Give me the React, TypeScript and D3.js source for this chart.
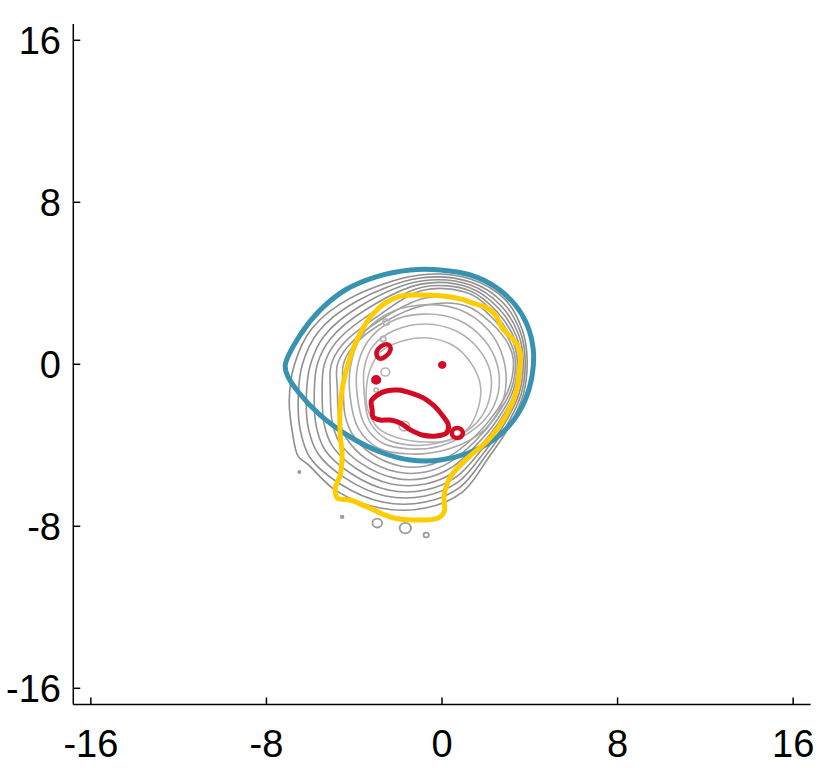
import React from 'react';
import * as d3 from 'd3';

type P = [number, number];

const TICKS = [-16, -8, 0, 8, 16];
const TICK_LABELS = ['-16', '-8', '0', '8', '16'];

const BLUE: P[] = [[-7.14,-0.03],[-6.46,1.45],[-5.55,2.68],[-4.41,3.67],[-3.04,4.31],[-1.44,4.66],[-0.08,4.66],[1.29,4.41],[2.43,3.82],[3.34,2.93],[3.88,1.94],[4.16,0.71],[4.11,-0.53],[3.79,-1.76],[3.20,-2.85],[2.34,-3.74],[1.20,-4.38],[-0.08,-4.73],[-1.44,-4.73],[-2.81,-4.33],[-4.18,-3.59],[-5.55,-2.51],[-6.55,-1.37],[-7.05,-0.53]];

const YELLOW: P[] = [[-4.77,-6.60],[-4.86,-6.11],[-4.64,-5.47],[-4.55,-4.48],[-4.64,-3.49],[-4.64,-2.11],[-4.50,-0.93],[-4.18,0.36],[-3.72,1.55],[-3.18,2.44],[-2.58,3.03],[-1.90,3.37],[-0.99,3.42],[0.06,3.37],[0.83,3.23],[1.52,2.98],[2.06,2.78],[2.43,2.44],[2.75,1.79],[3.34,1.10],[3.57,0.56],[3.52,-0.38],[3.38,-1.37],[2.93,-2.51],[2.11,-3.74],[1.06,-4.73],[0.38,-5.56],[0.10,-6.45],[0.10,-7.29],[-0.17,-7.59],[-1.31,-7.69],[-2.36,-7.54],[-3.40,-7.05],[-4.18,-6.70]];

const GRAY_OUTER_1: P[] = [[-6.73,-0.03],[-5.91,1.79],[-4.18,3.27],[-0.99,4.41],[1.29,4.21],[2.89,3.18],[3.66,1.69],[3.88,0.21],[3.70,-1.52],[3.02,-3.15],[2.11,-4.63],[0.93,-6.31],[-0.76,-7.10],[-2.81,-7.10],[-4.86,-6.21],[-6.10,-4.95],[-6.55,-4.55],[-6.82,-3.34],[-6.96,-1.76]];
const GRAY_OUTER_2: P[] = [[-6.37,-0.03],[-5.64,1.60],[-3.95,3.08],[-0.99,4.26],[1.29,4.06],[2.79,3.03],[3.57,1.60],[3.79,0.21],[3.61,-1.47],[2.93,-3.05],[2.02,-4.48],[0.83,-6.06],[-0.76,-6.80],[-2.72,-6.80],[-4.64,-5.91],[-6.00,-4.63],[-6.46,-3.24],[-6.55,-1.66]];
const GRAY_OUTER_3: P[] = [[-6.00,-0.03],[-5.37,1.40],[-3.72,2.88],[-0.94,4.11],[1.29,3.92],[2.70,2.88],[3.48,1.50],[3.70,0.21],[3.52,-1.42],[2.84,-2.95],[1.93,-4.33],[0.74,-5.81],[-0.76,-6.50],[-2.58,-6.50],[-4.41,-5.62],[-5.64,-4.43],[-6.09,-3.15],[-6.18,-1.56]];
const GRAY_OUTER_4: P[] = [[-5.69,-0.03],[-5.09,1.25],[-3.50,2.68],[-0.90,3.97],[1.29,3.77],[2.61,2.73],[3.38,1.40],[3.61,0.21],[3.43,-1.37],[2.75,-2.85],[1.84,-4.18],[0.65,-5.56],[-0.76,-6.21],[-2.45,-6.21],[-4.18,-5.37],[-5.33,-4.23],[-5.73,-3.05],[-5.82,-1.47]];
const GRAY_OUTER_5: P[] = [[-5.37,-0.03],[-4.82,1.10],[-3.27,2.48],[-0.85,3.82],[1.29,3.62],[2.52,2.58],[3.29,1.30],[3.52,0.21],[3.34,-1.32],[2.66,-2.75],[1.75,-4.03],[0.56,-5.32],[-0.76,-5.91],[-2.31,-5.91],[-3.95,-5.12],[-5.00,-4.03],[-5.37,-2.95],[-5.46,-1.37]];
const GRAY_OUTER_6: P[] = [[-5.05,-0.03],[-4.55,0.95],[-3.04,2.29],[-0.81,3.67],[1.29,3.47],[2.43,2.44],[3.20,1.20],[3.43,0.21],[3.25,-1.27],[2.57,-2.65],[1.65,-3.89],[0.47,-5.07],[-0.76,-5.62],[-2.17,-5.62],[-3.72,-4.87],[-4.68,-3.84],[-5.00,-2.85],[-5.09,-1.27]];
const GRAY_OUTER_7: P[] = [[-4.77,-0.03],[-4.27,0.90],[-2.81,2.19],[-0.76,3.27],[1.20,3.18],[2.34,2.24],[3.11,1.10],[3.34,0.21],[3.16,-1.22],[2.47,-2.55],[1.56,-3.74],[0.38,-4.82],[-0.76,-5.32],[-2.04,-5.32],[-3.50,-4.63],[-4.36,-3.64],[-4.68,-2.75],[-4.77,-1.17]];
const GRAY_OUTER_8: P[] = [[-4.50,-0.03],[-4.04,0.90],[-2.63,2.09],[-0.72,2.93],[1.11,2.88],[2.24,2.04],[3.02,1.00],[3.25,0.21],[3.06,-1.17],[2.38,-2.46],[1.47,-3.59],[0.29,-4.58],[-0.76,-5.02],[-1.90,-5.02],[-3.27,-4.38],[-4.09,-3.44],[-4.41,-2.55],[-4.50,-1.17]];

const GRAY_INNER_1: P[] = [[-4.18,-0.18],[-3.72,1.30],[-2.58,2.44],[-0.99,2.93],[0.83,2.68],[2.11,1.69],[2.79,0.31],[2.89,-1.27],[2.47,-2.51],[1.65,-3.49],[0.15,-4.23],[-1.44,-4.43],[-2.91,-4.13],[-3.82,-3.15],[-4.18,-1.66]];
const GRAY_INNER_2: P[] = [[-3.86,-0.18],[-3.40,1.10],[-2.36,2.09],[-0.90,2.48],[0.74,2.19],[1.93,1.20],[2.52,-0.03],[2.57,-1.37],[2.11,-2.51],[1.29,-3.34],[-0.08,-4.03],[-1.44,-4.18],[-2.72,-3.89],[-3.54,-2.95],[-3.86,-1.56]];
const GRAY_INNER_3: P[] = [[-3.54,-0.18],[-3.14,0.90],[-2.13,1.69],[-0.76,1.99],[0.65,1.64],[1.70,0.71],[2.20,-0.38],[2.20,-1.52],[1.79,-2.60],[1.06,-3.34],[-0.17,-3.89],[-1.44,-3.99],[-2.54,-3.69],[-3.31,-2.80],[-3.54,-1.47]];
const GRAY_INNER_4: P[] = [[-3.31,-0.38],[-2.81,0.61],[-1.81,1.15],[-0.62,1.30],[0.47,0.95],[1.29,0.11],[1.75,-1.03],[1.65,-2.16],[1.20,-3.15],[0.38,-3.74],[-0.76,-3.84],[-1.99,-3.64],[-2.91,-3.15],[-3.40,-2.16],[-3.45,-1.27]];

const GRAY_OUTER = [GRAY_OUTER_1, GRAY_OUTER_2, GRAY_OUTER_3, GRAY_OUTER_4, GRAY_OUTER_5, GRAY_OUTER_6, GRAY_OUTER_7, GRAY_OUTER_8];
const GRAY_INNER = [GRAY_INNER_1, GRAY_INNER_2, GRAY_INNER_3, GRAY_INNER_4];

// small gray rings: [x, y, radius] in data units
const GRAY_RINGS: [number, number, number][] = [[-2.95,-7.84,0.22],[-1.67,-8.09,0.26],[-0.72,-8.43,0.12],[-6.50,-5.32,0.05],[-4.55,-7.54,0.06]];
const LIGHT_RINGS: [number, number, number][] = [[-2.54,2.09,0.15],[-2.68,1.25,0.13],[-2.58,-0.38,0.2],[-1.72,-3.05,0.24],[-3.00,-1.27,0.1]];

const RED_LOOP: P[] = [[-3.18,-2.26],[-3.22,-1.81],[-2.95,-1.52],[-2.54,-1.32],[-1.99,-1.27],[-1.40,-1.42],[-0.85,-1.66],[-0.35,-2.06],[0.01,-2.51],[0.29,-3.00],[0.20,-3.39],[-0.26,-3.54],[-0.90,-3.49],[-1.44,-3.24],[-1.90,-2.90],[-2.36,-2.75],[-2.81,-2.75],[-3.14,-2.60]];
const RED_SMALL_LOOP: P[] = [[-2.92,0.34],[-2.98,0.62],[-2.79,0.88],[-2.52,0.99],[-2.36,0.88],[-2.37,0.64],[-2.57,0.39],[-2.78,0.28]];
const RED_RINGS: [number, number, number][] = [[0.70,-3.39,0.25]];
const RED_DOTS: [number, number, number][] = [[-3.00,-0.77,0.14],[0.01,-0.03,0.1]];

const W = 830;
const H = 768;

export default function App() {
  const x = d3.scaleLinear().domain([-16.8, 16.8]).range([73.3, 810.7]);
  const y = d3.scaleLinear().domain([-16.8, 16.8]).range([704.5, 24.1]);
  const closed = d3.line<P>().x(d => x(d[0])).y(d => y(d[1])).curve(d3.curveCatmullRomClosed.alpha(0.5));
  const rx = (r: number) => x(r) - x(0);
  const ry = (r: number) => y(0) - y(r);
  const darkColors = ['#8e8e8e', '#8e8e8e', '#909090', '#929292', '#949494', '#979797', '#9a9a9a', '#9d9d9d'];
  const lightColors = ['#a8a8a8', '#acacac', '#b0b0b0', '#b4b4b4'];
  const font = '"Liberation Sans", Arial, Helvetica, sans-serif';
  const x0 = x.range()[0];
  const yb = y.range()[0];

  return (
    <svg width={W} height={H} style={{ position: 'absolute', left: 0, top: 0, background: '#fff' }}>
      <g fill="none" strokeLinejoin="round">
        {GRAY_OUTER.map((c, i) => (
          <path key={'go' + i} d={closed(c) || ''} stroke={darkColors[i]} strokeWidth={1.6} />
        ))}
        {GRAY_INNER.map((c, i) => (
          <path key={'gi' + i} d={closed(c) || ''} stroke={lightColors[i]} strokeWidth={1.6} />
        ))}
        {GRAY_RINGS.map((r, i) => (
          <ellipse key={'gr' + i} cx={x(r[0])} cy={y(r[1])} rx={rx(r[2])} ry={ry(r[2])} stroke="#9a9a9a" strokeWidth={1.8} />
        ))}
        {LIGHT_RINGS.map((r, i) => (
          <ellipse key={'lr' + i} cx={x(r[0])} cy={y(r[1])} rx={rx(r[2])} ry={ry(r[2])} stroke="#b4b4b4" strokeWidth={1.6} />
        ))}
        <path d={closed(BLUE) || ''} stroke="#3793b0" strokeWidth={5} />
        <path d={closed(YELLOW) || ''} stroke="#ffcc00" strokeWidth={5} />
        <path d={closed(RED_LOOP) || ''} stroke="#d20a24" strokeWidth={5} />
        <path d={closed(RED_SMALL_LOOP) || ''} stroke="#d20a24" strokeWidth={4.5} />
        {RED_RINGS.map((r, i) => (
          <ellipse key={'rr' + i} cx={x(r[0])} cy={y(r[1])} rx={rx(r[2])} ry={ry(r[2])} stroke="#d20a24" strokeWidth={4.5} />
        ))}
        {RED_DOTS.map((r, i) => (
          <ellipse key={'rd' + i} cx={x(r[0])} cy={y(r[1])} rx={rx(r[2])} ry={ry(r[2])} fill="#d20a24" stroke="#d20a24" strokeWidth={4} />
        ))}
      </g>
      <g stroke="#000" strokeWidth={1.5}>
        <line x1={x0} x2={x0} y1={y.range()[1]} y2={yb} />
        <line x1={x0} x2={x.range()[1]} y1={yb} y2={yb} />
        {TICKS.map(t => (
          <line key={'xt' + t} x1={x(t)} x2={x(t)} y1={yb} y2={yb - 7} />
        ))}
        {TICKS.map(t => (
          <line key={'yt' + t} x1={x0} x2={x0 + 7} y1={y(t)} y2={y(t)} />
        ))}
      </g>
      <g fontFamily={font} fontSize={38} fill="#000">
        {TICKS.map((t, i) => (
          <text key={'xl' + t} x={x(t)} y={757} textAnchor="middle">{TICK_LABELS[i]}</text>
        ))}
        {TICKS.map((t, i) => (
          <text key={'yl' + t} x={61} y={y(t) + 14} textAnchor="end">{TICK_LABELS[i]}</text>
        ))}
      </g>
    </svg>
  );
}
